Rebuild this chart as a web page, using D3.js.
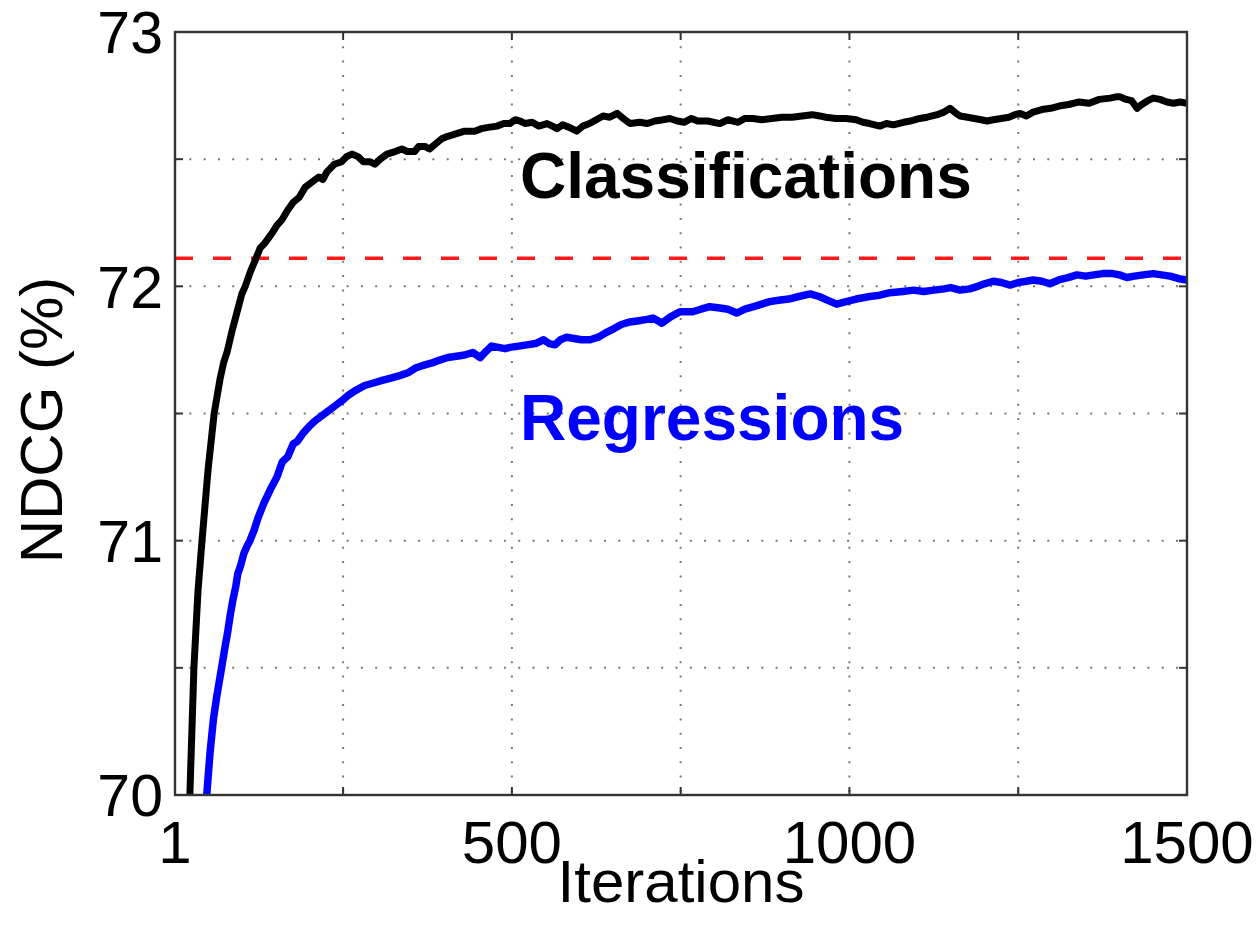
<!DOCTYPE html>
<html>
<head>
<meta charset="utf-8">
<script src="https://cdn.jsdelivr.net/npm/d3@7"></script>
<style>
  html, body { margin: 0; padding: 0; background: #fff; }
  svg { display: block; font-family: "Liberation Sans", Arial, Helvetica, sans-serif; }
</style>
</head>
<body>
<svg id="chart" width="1260" height="931"></svg>
<script>
// Ranking quality (NDCG %) over boosting iterations, two model families.
const xTickValues = [1, 500, 1000, 1500];
const xGridValues = [250, 500, 750, 1000, 1250];
const yTickValues = [70, 71, 72, 73];
const yGridValues = [70.5, 71, 71.5, 72, 72.5];
const baselineValue = 72.11;

const seriesNames = ["Classifications", "Regressions"];

// [iteration, NDCG %]
const classificationValues = [
  [15,69.8],[23,70.0],[29,70.5],[35,70.8],[41,71.0],[50,71.28],[59,71.5],[68,71.64],[73,71.70],[78,71.74],
  [86,71.83],[93,71.90],[100,71.97],[105,72.0],[113,72.06],[121,72.11],[127,72.15],[134,72.17],[145,72.21],
  [152,72.24],[159,72.26],[168,72.30],[176,72.33],[185,72.35],[194,72.39],[204,72.41],[214,72.43],[220,72.42],
  [226,72.45],[237,72.48],[248,72.49],[255,72.51],[263,72.52],[272,72.51],[280,72.49],[290,72.49],[297,72.48],
  [305,72.50],[315,72.52],[327,72.53],[337,72.54],[345,72.53],[356,72.53],[362,72.55],[371,72.55],[378,72.54],
  [387,72.56],[396,72.58],[405,72.59],[418,72.60],[430,72.61],[445,72.61],[455,72.62],[465,72.625],[478,72.63],
  [488,72.64],[497,72.64],[505,72.655],[512,72.65],[520,72.64],[530,72.645],[540,72.63],[552,72.64],[560,72.63],
  [567,72.62],[575,72.635],[585,72.625],[596,72.61],[605,72.63],[615,72.64],[625,72.655],[635,72.67],[645,72.665],
  [656,72.68],[665,72.66],[675,72.64],[690,72.645],[700,72.64],[712,72.65],[724,72.655],[734,72.66],[745,72.65],
  [755,72.645],[766,72.66],[775,72.65],[790,72.65],[808,72.64],[820,72.655],[835,72.645],[845,72.66],[857,72.66],
  [870,72.655],[885,72.66],[900,72.665],[915,72.665],[930,72.67],[945,72.675],[956,72.67],[965,72.665],[980,72.66],
  [995,72.66],[1010,72.655],[1020,72.645],[1030,72.64],[1045,72.63],[1055,72.64],[1065,72.635],[1080,72.645],
  [1090,72.65],[1104,72.66],[1115,72.665],[1130,72.675],[1140,72.685],[1149,72.70],[1158,72.68],[1164,72.67],
  [1175,72.665],[1185,72.66],[1195,72.655],[1204,72.65],[1213,72.655],[1225,72.66],[1236,72.665],[1245,72.675],
  [1253,72.68],[1262,72.67],[1272,72.685],[1285,72.695],[1298,72.70],[1312,72.71],[1325,72.715],[1340,72.725],
  [1355,72.72],[1370,72.735],[1386,72.74],[1395,72.745],[1401,72.745],[1410,72.735],[1418,72.73],[1426,72.70],
  [1433,72.715],[1442,72.73],[1450,72.74],[1460,72.735],[1470,72.725],[1480,72.72],[1490,72.725],[1500,72.72]
];

const regressionValues = [
  [40,69.8],[48,70.0],[53,70.17],[58,70.3],[63,70.39],[70,70.5],[75,70.58],[79,70.64],[83,70.71],[87,70.77],
  [91,70.82],[94,70.87],[98,70.9],[103,70.95],[108,70.98],[112,71.0],[118,71.04],[124,71.09],[133,71.15],[142,71.2],
  [152,71.25],[160,71.31],[168,71.33],[176,71.38],[182,71.39],[190,71.42],[200,71.45],[208,71.47],[218,71.49],
  [228,71.51],[238,71.53],[248,71.55],[257,71.57],[268,71.59],[282,71.61],[295,71.62],[308,71.63],[322,71.64],
  [335,71.65],[346,71.66],[358,71.68],[370,71.69],[383,71.70],[393,71.71],[405,71.72],[418,71.725],[430,71.73],
  [442,71.74],[453,71.72],[462,71.745],[470,71.765],[480,71.76],[490,71.755],[497,71.76],[510,71.765],[522,71.77],
  [535,71.775],[547,71.79],[555,71.775],[564,71.77],[572,71.79],[581,71.80],[592,71.795],[603,71.79],[616,71.79],
  [628,71.80],[641,71.82],[652,71.835],[662,71.85],[675,71.86],[688,71.865],[700,71.87],[709,71.875],[716,71.865],
  [722,71.855],[735,71.88],[749,71.90],[768,71.90],[780,71.91],[793,71.92],[808,71.915],[820,71.91],[833,71.895],
  [845,71.91],[858,71.92],[870,71.93],[882,71.94],[895,71.945],[910,71.95],[925,71.96],[942,71.97],[955,71.96],
  [968,71.945],[981,71.93],[995,71.94],[1010,71.95],[1030,71.96],[1045,71.965],[1060,71.975],[1079,71.98],
  [1095,71.985],[1110,71.98],[1125,71.985],[1140,71.99],[1150,71.995],[1164,71.985],[1178,71.99],[1190,72.0],
  [1200,72.01],[1213,72.02],[1225,72.015],[1238,72.005],[1250,72.015],[1262,72.02],[1272,72.025],[1285,72.02],
  [1297,72.01],[1310,72.025],[1325,72.035],[1337,72.045],[1350,72.04],[1362,72.045],[1375,72.05],[1390,72.05],
  [1400,72.045],[1411,72.035],[1422,72.04],[1435,72.045],[1450,72.05],[1462,72.045],[1475,72.04],[1488,72.03],
  [1500,72.025]
];

const svg = d3.select("#chart");
const margin = { left: 175, right: 73, top: 32, bottom: 136 };
const W = 1260, H = 931;
const iw = W - margin.left - margin.right;
const ih = H - margin.top - margin.bottom;

const x = d3.scaleLinear().domain([1, 1500]).range([0, iw]);
const y = d3.scaleLinear().domain([70, 73]).range([ih, 0]);

const g = svg.append("g").attr("transform", `translate(${margin.left},${margin.top})`);

g.append("defs").append("clipPath").attr("id", "plotClip")
  .append("rect").attr("width", iw).attr("height", ih);

// dotted grid
const gridStyle = sel => sel.attr("stroke", "#777").attr("stroke-width", 2)
  .attr("stroke-dasharray", "2,12.3").attr("fill", "none");
g.append("g").selectAll("line").data(xGridValues).join("line")
  .attr("x1", d => x(d)).attr("x2", d => x(d)).attr("y1", 0).attr("y2", ih)
  .call(gridStyle);
g.append("g").selectAll("line").data(yGridValues).join("line")
  .attr("x1", 0).attr("x2", iw).attr("y1", d => y(d)).attr("y2", d => y(d))
  .call(gridStyle);

// baseline
g.append("line")
  .attr("x1", 0).attr("x2", iw).attr("y1", y(baselineValue)).attr("y2", y(baselineValue))
  .attr("stroke", "#ff1a1a").attr("stroke-width", 3.5).attr("stroke-dasharray", "18,20");

// curves
const line = d3.line().x(d => x(d[0])).y(d => y(d[1])).curve(d3.curveLinear);
const curves = g.append("g").attr("clip-path", "url(#plotClip)");
curves.append("path").datum(regressionValues)
  .attr("d", line).attr("fill", "none").attr("stroke", "#0000ff")
  .attr("stroke-width", 7.5).attr("stroke-linejoin", "round").attr("stroke-linecap", "round");
curves.append("path").datum(classificationValues)
  .attr("d", line).attr("fill", "none").attr("stroke", "#000")
  .attr("stroke-width", 7).attr("stroke-linejoin", "round").attr("stroke-linecap", "round");

// axes with inward ticks on all four sides
const frameColor = "#333";
const tickLen = 8;
const tickStyle = sel => sel.attr("stroke", frameColor).attr("stroke-width", 2);
const xTicksAll = [250, 500, 750, 1000, 1250];
const yTicksAll = [70.5, 71, 71.5, 72, 72.5];
g.append("g").selectAll("line").data(xTicksAll).join("line")
  .attr("x1", d => x(d)).attr("x2", d => x(d)).attr("y1", ih).attr("y2", ih - tickLen).call(tickStyle);
g.append("g").selectAll("line").data(xTicksAll).join("line")
  .attr("x1", d => x(d)).attr("x2", d => x(d)).attr("y1", 0).attr("y2", tickLen).call(tickStyle);
g.append("g").selectAll("line").data(yTicksAll).join("line")
  .attr("x1", 0).attr("x2", tickLen).attr("y1", d => y(d)).attr("y2", d => y(d)).call(tickStyle);
g.append("g").selectAll("line").data(yTicksAll).join("line")
  .attr("x1", iw).attr("x2", iw - tickLen).attr("y1", d => y(d)).attr("y2", d => y(d)).call(tickStyle);

g.append("rect").attr("width", iw).attr("height", ih)
  .attr("fill", "none").attr("stroke", frameColor).attr("stroke-width", 2.4);

// tick labels
g.append("g").selectAll("text").data(xTickValues).join("text")
  .attr("x", d => x(d)).attr("y", ih + 68)
  .attr("text-anchor", "middle").attr("font-size", 60).attr("fill", "#000")
  .text(d => d);
g.append("g").selectAll("text").data(yTickValues).join("text")
  .attr("x", -12).attr("y", d => y(d)).attr("dy", "0.36em")
  .attr("text-anchor", "end").attr("font-size", 59).attr("fill", "#000")
  .text(d => d);

// axis titles
svg.append("text")
  .attr("x", margin.left + iw / 2).attr("y", 902)
  .attr("text-anchor", "middle").attr("font-size", 60).attr("fill", "#000")
  .text("Iterations");
svg.append("text")
  .attr("transform", "translate(62,420) rotate(-90)")
  .attr("text-anchor", "middle").attr("font-size", 60).attr("fill", "#000")
  .text("NDCG (%)");

// series labels
const labelPos = [[520, 198, "#000"], [520, 440, "#0000ff"]];
svg.append("g").selectAll("text").data(seriesNames).join("text")
  .attr("x", (d, i) => labelPos[i][0]).attr("y", (d, i) => labelPos[i][1])
  .attr("font-size", 64).attr("font-weight", "bold")
  .attr("fill", (d, i) => labelPos[i][2])
  .text(d => d);
</script>
</body>
</html>
